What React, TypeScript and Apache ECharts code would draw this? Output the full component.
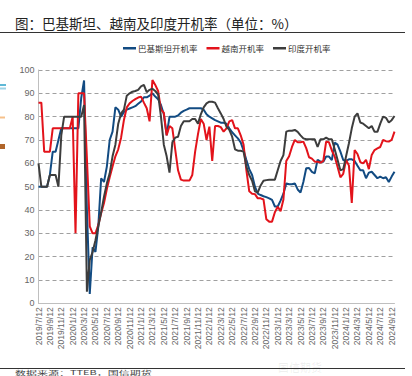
import React, { useEffect, useRef } from "react";
import * as echarts from "echarts";

const titleText = "图：巴基斯坦、越南及印度开机率（单位：%）";
const sourceText = "数据来源：TTEB，国信期货";
const watermarkText = "国信期货";
const seriesNames = ["巴基斯坦开机率", "越南开机率", "印度开机率"];

const tickLabels = [
  "2019/7/12", "2019/9/12", "2019/11/12",
  "2020/1/12", "2020/3/12", "2020/5/12", "2020/7/12", "2020/9/12", "2020/11/12",
  "2021/1/12", "2021/3/12", "2021/5/12", "2021/7/12", "2021/9/12", "2021/11/12",
  "2022/1/12", "2022/3/12", "2022/5/12", "2022/7/12", "2022/9/12", "2022/11/12",
  "2023/1/12", "2023/3/12", "2023/5/12", "2023/7/12", "2023/9/12", "2023/11/12",
  "2024/1/12", "2024/3/12", "2024/5/12", "2024/7/12", "2024/9/12",
];

// half-monthly samples (4 per 2-month tick interval)
const pakistan = [
  50, 50, 50, 50, 55, 65, 65, 70, 75, 75, 75, 75, 75, 75, 75, 88,
  95.5, 40, 4, 24, 22, 33, 53.6, 52, 58.6, 70, 73.6, 84, 83, 80, 82, 83,
  83.5, 84, 84.5, 85.5, 86.5, 88.3, 88.3, 89, 90, 88.6, 87.5, 85, 81, 72, 80, 80,
  80, 80.5, 81.7, 82.5, 83, 83.6, 83.6, 83.6, 83.6, 83.6, 83, 81, 80, 79.3, 78.5, 78,
  77.4, 77.4, 77, 75, 73.3, 72, 70.7, 69, 65.5, 61.4, 57.5, 55, 50, 47, 46.4, 45.9,
  45.5, 45, 44.3, 41.5, 41.5, 44, 47, 51.4, 51, 51, 51.4, 48.8, 47.5, 52, 57.9, 58,
  56.3, 55.7, 61.5, 60.7, 60.7, 62.9, 62.9, 61.4, 68.9, 68, 65, 61.4, 61, 61.7, 61.7, 61,
  59, 57, 57, 53.6, 56, 56.4, 55, 53.6, 54.3, 53.6, 54, 52, 54.3, 56.4,
];

const vietnam = [
  86, 86, 65, 65, 65, 75, 75, 75, 75, 75, 75, 75, 80, 30, 90, 90,
  90, 62, 33, 30, 30, 33.6, 38.6, 43, 49, 54, 58.6, 63, 66, 71, 78.6, 84,
  85.7, 86.7, 87.5, 88.2, 88.6, 86, 83.6, 78, 95.7, 93.6, 91, 83, 81.7, 72, 76, 75,
  66, 57, 53, 52.6, 52.6, 52.6, 55, 65, 72.5, 79, 77, 70, 75.7, 61, 76, 76,
  75.5, 73.6, 75, 78, 78.5, 75, 75, 72, 68, 57, 48, 47, 46.8, 45, 45, 44.5,
  36, 35, 35, 39, 41.4, 39.5, 44.5, 61, 63, 67, 70, 69, 69, 69.3, 66.5, 62.6,
  62, 60.7, 60.7, 60.3, 61, 69.3, 69, 65.5, 62.9, 58.5, 54, 55.5, 61.4, 59, 43, 65.7,
  64, 60.5, 60, 61.5, 57.5, 63.6, 65.7, 66.4, 67, 70, 69.5, 69.3, 70, 73.6,
];

const india = [
  60, 50, 50, 50, 55, 55, 55, 50, 72, 80, 80, 80, 80, 80, 80, 80,
  85, 5, 18.6, 22, 27, 33, 39, 45.7, 51.4, 55.7, 63, 68, 77, 81.4, 83, 89,
  90, 90.7, 91, 91.5, 93, 93.6, 90.5, 91.5, 92, 91, 89.5, 80, 68, 63, 56, 69,
  71, 71.4, 76, 78, 78, 78, 79, 79, 77, 81, 84, 85.7, 86.4, 86.4, 86, 83.6,
  81.4, 79, 75.7, 74.3, 71.4, 66, 65.4, 65.4, 65, 58.6, 55, 52.5, 48, 47.5, 50.5, 52.5,
  52.8, 53, 53, 53, 57, 61, 63.5, 73.6, 74, 74, 74.3, 73.5, 72, 70.7, 70.3, 70.3,
  70.3, 70.3, 67, 70.3, 70.3, 71, 70.3, 70.3, 66, 61.5, 57, 57.5, 63, 68.6, 75, 80,
  81.4, 77.5, 77, 76, 75, 76, 73.5, 73.5, 77, 80, 79.5, 77.5, 78.5, 80.3,
];

const colors = ["#124b82", "#e3131b", "#3d3d3d"];

const categories: string[] = [];
tickLabels.forEach((lab, i) => {
  categories.push(lab);
  if (i < tickLabels.length - 1) {
    categories.push(lab + "#a", lab + "#b", lab + "#c");
  }
});
categories.push("end#");

export default function App() {
  const ref = useRef<HTMLDivElement>(null);
  useEffect(() => {
    if (!ref.current) return;
    const chart = echarts.init(ref.current, null, { renderer: "svg" });
    const cjk = '"Noto Sans CJK SC", sans-serif';
    const narrow = '"Liberation Sans Narrow", "Liberation Sans", sans-serif';
    const data = [pakistan, vietnam, india];
    chart.setOption({
      animation: false,
      backgroundColor: "#ffffff",
      grid: { left: 38.5, right: 17.5, top: 70, bottom: 72.7, containLabel: false },
      legend: {
        data: seriesNames,
        left: 118,
        top: 39,
        icon: "rect",
        itemWidth: 13,
        itemHeight: 2.5,
        itemGap: 9,
        textStyle: { fontSize: 8.5, color: "#333", fontFamily: cjk, padding: [0, 0, 0, -3] },
      },
      xAxis: {
        type: "category",
        boundaryGap: false,
        data: categories,
        axisLine: { lineStyle: { color: "#bfbfbf", width: 1 } },
        axisTick: { show: false },
        splitLine: { show: false },
        axisLabel: {
          rotate: 90,
          margin: 4,
          fontSize: 8.5,
          color: "#666",
          fontFamily: narrow,
          interval: (idx: number) => idx % 4 === 0 && idx <= 124,
          formatter: (v: string) => (v.indexOf("#") >= 0 ? "" : v),
        },
      },
      yAxis: {
        type: "value",
        min: 0,
        max: 100,
        interval: 10,
        axisLine: { show: true, lineStyle: { color: "#bfbfbf", width: 1 } },
        axisTick: { show: false },
        splitLine: { show: true, lineStyle: { color: "#a0a0a0", type: [4, 3], width: 1 } },
        axisLabel: { fontSize: 9, color: "#666", margin: 4, fontFamily: narrow },
      },
      series: seriesNames.map((name, i) => ({
        name,
        type: "line",
        data: data[i],
        showSymbol: false,
        symbol: "none",
        lineStyle: { color: colors[i], width: 2 },
        itemStyle: { color: colors[i] },
        z: 2 + i,
      })),
      graphic: [
        {
          type: "text",
          x: 15,
          y: 16,
          style: { text: titleText, font: `13.5px ${cjk}`, fill: "#222", textBaseline: "middle" },
        },
        { type: "line", shape: { x1: 0, y1: 32.5, x2: 405, y2: 32.5 }, style: { stroke: "#333", lineWidth: 1 } },
        { type: "line", shape: { x1: 0, y1: 368.5, x2: 405, y2: 368.5 }, style: { stroke: "#333", lineWidth: 1 } },
        {
          type: "text",
          x: 15,
          y: 370,
          scaleX: 2,
          style: { text: sourceText, font: `5.5px ${cjk}`, fill: "#444", textBaseline: "top" },
        },
        { type: "rect", shape: { x: 0, y: 84, width: 6, height: 2 }, style: { fill: "#5fb8d6" } },
        { type: "rect", shape: { x: 0, y: 87.5, width: 6, height: 2 }, style: { fill: "#9fd3e6" } },
        { type: "rect", shape: { x: 0, y: 116.5, width: 5, height: 2 }, style: { fill: "#f6c08a" } },
        { type: "rect", shape: { x: 0, y: 144, width: 5, height: 5 }, style: { fill: "#b0652a" } },
        {
          type: "text",
          x: 300,
          y: 361.5,
          style: {
            text: watermarkText,
            font: `bold 11px ${cjk}`,
            fill: "rgba(0,0,0,0.06)",
            textAlign: "center",
            textBaseline: "middle",
          },
          z: -1,
        },
      ],
    });
    return () => chart.dispose();
  }, []);
  return <div ref={ref} style={{ width: 412, height: 376, position: "absolute", left: 0, top: 0 }} />;
}
